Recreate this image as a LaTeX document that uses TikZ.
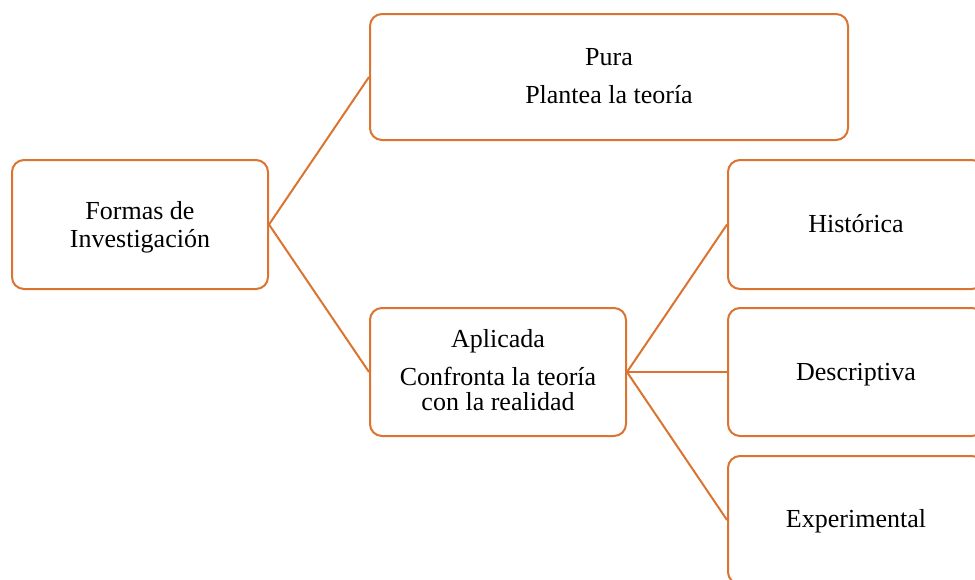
\documentclass[tikz,border=0pt]{standalone}
\usepackage{fontspec}
\setmainfont{Liberation Serif}
\definecolor{orn}{RGB}{218,116,48}
\tikzset{
  box/.style={draw=orn, line width=2pt, rounded corners=12pt, fill=white, inner sep=0pt},
  txt/.style={font=\fontsize{26}{28}\selectfont, text=black, inner sep=0pt, anchor=base},
  conn/.style={draw=orn, line width=2pt}
}
\begin{document}
\begin{tikzpicture}[x=1pt,y=-1pt]
\useasboundingbox (0,0) rectangle (975,579);
\clip (0,0) rectangle (975,579);
% boxes
\node[box, minimum width=256pt, minimum height=129pt] (f) at (140,224.5) {};
\node[box, minimum width=478pt, minimum height=126pt] (p) at (609,77) {};
\node[box, minimum width=256pt, minimum height=128pt] (a) at (498,372) {};
\node[box, minimum width=256pt, minimum height=129pt] (h) at (856,224.5) {};
\node[box, minimum width=256pt, minimum height=128pt] (d) at (856,372) {};
\node[box, minimum width=256pt, minimum height=128pt] (e) at (856,520) {};
% connectors
\draw[conn] (f.east) -- (p.west);
\draw[conn] (f.east) -- (a.west);
\draw[conn] (a.east) -- (h.west);
\draw[conn] (a.east) -- (d.west);
\draw[conn] (a.east) -- (e.west);
% texts
\node[txt] (f1) at (140,219) {Formas de};
\node[txt] (f2) at (140,247) {Investigación};
\node[txt] (p1) at (609,65) {Pura};
\node[txt] (p2) at (609,103) {Plantea la teoría};
\node[txt] (a1) at (498,347) {Aplicada};
\node[txt] (a2) at (498,385) {Confronta la teoría};
\node[txt] (a3) at (498,410) {con la realidad};
\node[txt] (h1) at (856,232) {Histórica};
\node[txt] (d1) at (856,380) {Descriptiva};
\node[txt] (e1) at (856,527) {Experimental};
\end{tikzpicture}
\end{document}
